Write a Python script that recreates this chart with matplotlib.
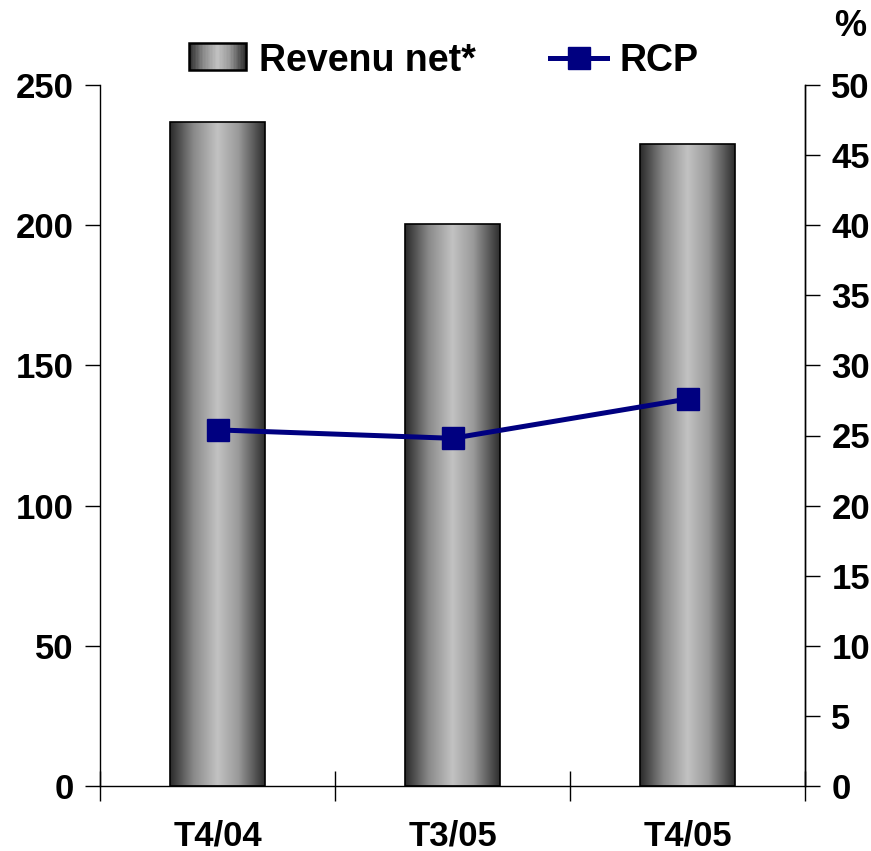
import matplotlib
matplotlib.use("Agg")
import matplotlib.pyplot as plt
import numpy as np
from matplotlib.patches import Rectangle
from matplotlib.legend_handler import HandlerBase
from matplotlib.colors import LinearSegmentedColormap

categories = ["T4/04", "T3/05", "T4/05"]
revenu = [236.8, 200.3, 229.0]
rcp = [25.4, 24.8, 27.6]
left_ticks = [0, 50, 100, 150, 200, 250]
right_ticks = list(range(0, 55, 5))

plt.rcParams['font.family'] = ['Liberation Sans', 'DejaVu Sans']
plt.rcParams['font.weight'] = 'bold'

cmap = LinearSegmentedColormap.from_list(
    "cyl", [(0.0, "#2a2a2a"), (0.25, "#8a8a8a"), (0.5, "#c2c2c2"),
            (0.72, "#9a9a9a"), (1.0, "#2e2e2e")])

fig = plt.figure(figsize=(8.71, 8.51), dpi=100)
ax = fig.add_axes([100/871, 65/851, 705/871, 701/851])
ax2 = ax.twinx()

x = np.arange(len(categories))
width = 0.404
bars = ax.bar(x, revenu, width, color='none', edgecolor='black', linewidth=1.2, zorder=3)
grad = np.linspace(0, 1, 256).reshape(1, -1)
for b in bars:
    x0, y0 = b.get_x(), b.get_y()
    w, h = b.get_width(), b.get_height()
    im = ax.imshow(grad, cmap=cmap, aspect='auto', extent=[x0, x0 + w, y0, y0 + h],
                   zorder=2, interpolation='bilinear')
    im.set_clip_path(b)

ax.set_xlim(-0.5, 2.5)
ax.set_ylim(0, 250)
ax.set_yticks(left_ticks)
ax.set_xticks([-0.5, 0.5, 1.5, 2.5], minor=False)
ax.set_xticklabels([])
ax.set_xticks(x, minor=True)
ax.set_xticklabels(categories, minor=True)
ax.tick_params(axis='x', which='major', direction='inout', length=22, width=1)
ax.tick_params(axis='x', which='minor', length=0, pad=24, labelsize=25)
ax.tick_params(axis='y', direction='out', length=11, width=1, labelsize=25, pad=8)

ax2.plot(x, rcp, color='#000080', linewidth=3.6, marker='s', markersize=16, zorder=5)
ax2.set_ylim(0, 50)
ax2.set_yticks(right_ticks)
ax2.tick_params(axis='y', direction='out', length=11, width=1, labelsize=25, pad=8)

for a in (ax, ax2):
    a.spines['top'].set_visible(False)
    for s in ('left', 'right', 'bottom'):
        a.spines[s].set_linewidth(1)
ax2.spines['left'].set_visible(False)
ax2.spines['bottom'].set_visible(False)

fig.text(850/871, 1 - 27/851, "%", fontsize=26, fontweight='bold', ha='center', va='center')


class GradientHandler(HandlerBase):
    def legend_artist(self, legend, orig_handle, fontsize, handlebox):
        x0, y0 = handlebox.xdescent, handlebox.ydescent
        w, h = handlebox.width, handlebox.height
        n = 40
        for i in range(n):
            r = Rectangle((x0 + w * i / n - 0.01, y0), w / n + 0.02, h,
                          facecolor=cmap((i + 0.5) / n), edgecolor='none',
                          transform=handlebox.get_transform())
            handlebox.add_artist(r)
        outline = Rectangle((x0, y0), w, h, facecolor='none', edgecolor='black',
                            linewidth=1.8, transform=handlebox.get_transform())
        handlebox.add_artist(outline)
        return outline


bar_handle = Rectangle((0, 0), 1, 1)
line_handle, = ax2.plot([], [], color='#000080', linewidth=3.6, marker='s', markersize=16)
fig.legend([bar_handle, line_handle], ["Revenu net*", "RCP"],
           handler_map={Rectangle: GradientHandler()},
           loc='center', bbox_to_anchor=(444/871, 1 - 61/851), ncol=2,
           frameon=False, handlelength=1.5, handleheight=0.75,
           handletextpad=0.35, columnspacing=2.0, prop={'weight': 'bold', 'size': 27})

fig.savefig("out.png", dpi=100)
